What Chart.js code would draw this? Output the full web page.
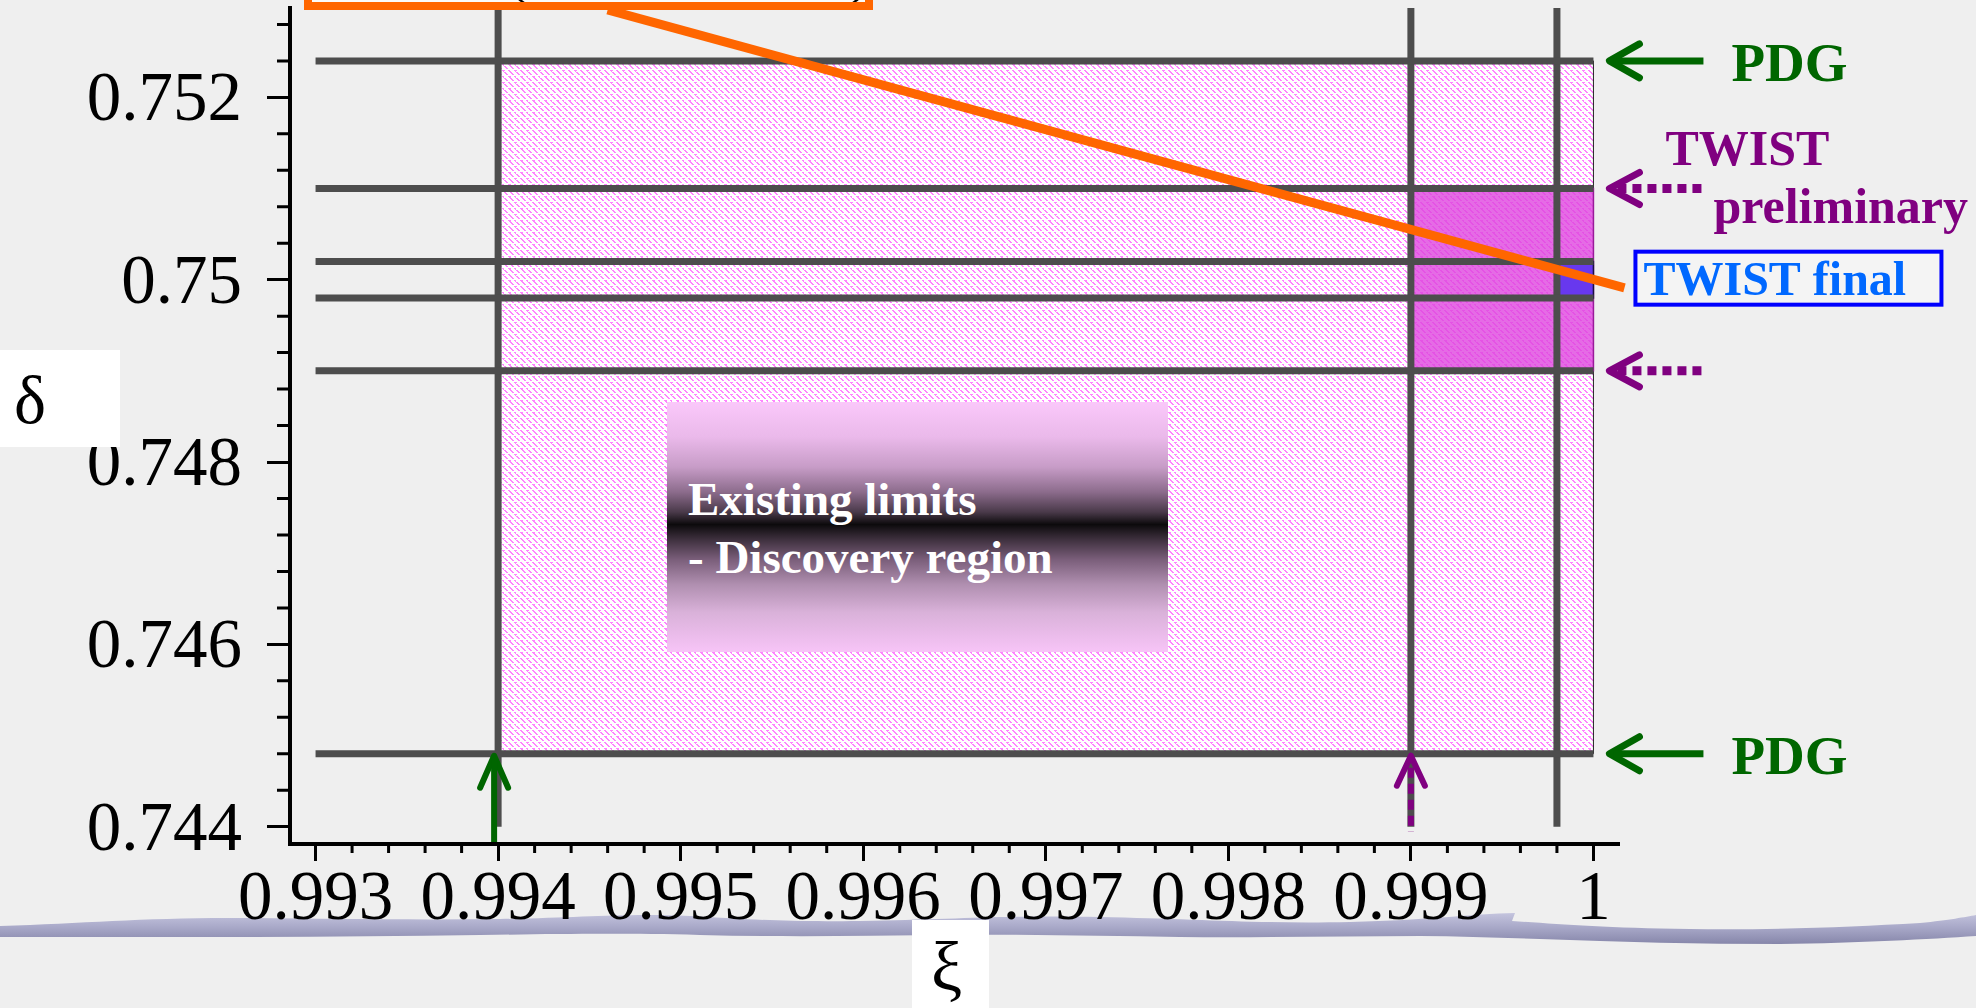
<!DOCTYPE html>
<html>
<head>
<meta charset="utf-8">
<script src="https://cdn.jsdelivr.net/npm/chart.js@4.4.1/dist/chart.umd.min.js"></script>
<style>
  html, body { margin: 0; padding: 0; width: 1976px; height: 1008px; overflow: hidden; background: #efefef; }
  #wrap { position: relative; width: 1976px; height: 1008px; }
  #swoosh, #chart { position: absolute; left: 0; top: 0; }
  .topbox { position: absolute; left: 304px; top: -62px; width: 553px; height: 56px; border: 8px solid #ff6600; background: #fbfbfb; overflow: hidden;
            font-family: 'Liberation Serif', serif; font-size: 60px; color: #000; z-index: 2; }
  .topbox span { position: absolute; top: -4px; line-height: 1; }
  .info { position: absolute; left: 667px; top: 402px; width: 501px; height: 250px;
          background: linear-gradient(to bottom, #fac8fa 0%, #eab9ea 14%, #c79cc7 26%, #8c6c8c 36%, #4a3a4a 44%, #0c0a0c 49%, #3e303e 55%, #7a5e7a 63%, #b08fb0 73%, #d9b1d9 84%, #f7c4f7 100%);
          font-family: 'Liberation Serif', serif; font-weight: bold; font-size: 47px; color: #ffffff; }
  .info div { position: absolute; left: 21px; line-height: 1; white-space: nowrap; }
  .axlab { position: absolute; background: #ffffff; font-family: 'Liberation Serif', serif; color: #000; }
  .axlab span { position: absolute; line-height: 1; }
</style>
</head>
<body>
<div id="wrap">
  <svg id="swoosh" width="1976" height="1008" viewBox="0 0 1976 1008">
    <defs>
      <linearGradient id="band" x1="0" y1="0" x2="0" y2="1">
        <stop offset="0" stop-color="#c4c4de"/>
        <stop offset="0.5" stop-color="#a6a6c6"/>
        <stop offset="1" stop-color="#8686aa"/>
      </linearGradient>
    </defs>
    <path fill="url(#band)" d="M0,926 C90,923 150,917 250,918 C340,919 420,920 500,919 C580,918 620,913 690,916 C760,920 790,922 860,921 C960,919 1010,915 1100,917 C1200,919 1260,924 1350,922 C1430,920 1470,914 1515,913 L1512,921 C1560,924 1600,928 1690,929 C1780,930 1850,927 1920,923 C1950,920 1965,917 1976,915 L1976,936 C1930,939 1860,943 1780,944 C1700,944 1620,942 1540,939 C1500,938 1460,936 1420,936 C1340,936 1260,938 1180,937 C1100,936 1020,934 940,935 C860,936 780,937 700,935 C620,933 560,934 480,935 C400,936 320,937 240,937 C160,937 80,937 0,937 Z"/>
  </svg>
  <canvas id="chart" width="1976" height="1008"></canvas>
  <div class="topbox"><span style="left:195px">(</span><span style="left:538px">)</span></div>
  <div class="info">
    <div style="top:74px">Existing limits</div>
    <div style="top:132px">- Discovery region</div>
  </div>
  <div class="axlab" style="left:0;top:350px;width:120px;height:97px;font-size:68px;"><span style="left:14px;top:16px;">δ</span></div>
  <div class="axlab" style="left:912px;top:920px;width:77px;height:88px;font-size:70px;"><span style="left:19px;top:12px;">ξ</span></div>
</div>
<script>
// ---- axis ranges and tick labels ----
const xiMin = 0.99286, xiMax = 1.00014;
const deltaMin = 0.74381, deltaMax = 0.75298;
const xiTicks = [0.993, 0.994, 0.995, 0.996, 0.997, 0.998, 0.999, 1.0];
const xiTickLabels = ['0.993', '0.994', '0.995', '0.996', '0.997', '0.998', '0.999', '1'];
const deltaTicks = [0.744, 0.746, 0.748, 0.750, 0.752];
const deltaTickLabels = ['0.744', '0.746', '0.748', '0.75', '0.752'];
const minorPerMajor = 5;

// ---- allowed regions in the (ξ, δ) plane ----
const pdgXi = [0.994, 1.0];
const pdgDelta = [0.7448, 0.7524];
const twistPrelimXi = [0.999, 1.0];
const twistPrelimDelta = [0.749, 0.751];
const twistFinalXi = [0.9998, 1.0];
const twistFinalDelta = [0.7498, 0.7502];

// ---- limit lines ----
const hLineDelta = [0.7524, 0.751, 0.7502, 0.7498, 0.749, 0.7448];
const hLineXi = [0.993, 1.0];
const vLineXi = [0.994, 0.999, 0.9998];
const vLineDelta = [0.744, 0.753];

// ---- orange pointer line ----
const pointerXi = [0.99460, 1.00017];
const pointerDelta = [0.75296, 0.74991];

// minor tick positions between (and beyond) the labelled ticks
function minorTicks(majors, lo, hi) {
  const step = (majors[1] - majors[0]) / minorPerMajor;
  const out = [];
  const k0 = Math.ceil((lo - majors[0]) / step - 1e-9);
  const k1 = Math.floor((hi - majors[0]) / step + 1e-9);
  for (let k = k0; k <= k1; k++) {
    if (((k % minorPerMajor) + minorPerMajor) % minorPerMajor === 0) continue;
    out.push(majors[0] + k * step);
  }
  return out;
}
const xiMinor = minorTicks(xiTicks, xiMin, xiMax);
const deltaMinor = minorTicks(deltaTicks, deltaMin, deltaMax);

function rect(xs, ys) {
  return [{x: xs[0], y: ys[0]}, {x: xs[1], y: ys[0]}, {x: xs[1], y: ys[1]}, {x: xs[0], y: ys[1]}, {x: xs[0], y: ys[0]}];
}

// pink maze-like hatch used for the PDG region
function hatchPattern() {
  const n = 12;
  const c = document.createElement('canvas');
  c.width = n; c.height = n;
  const g = c.getContext('2d');
  g.fillStyle = '#ffffff';
  g.fillRect(0, 0, n, n);
  g.fillStyle = '#ff84ff';
  for (let i = 0; i < n; i++) {
    // two diagonal strands per tile, each broken once
    if (i % 6 !== 3) g.fillRect(i, i, 2, 1);
    if ((i + 3) % 6 !== 0) g.fillRect((i + 6) % n, i, 2, 1);
    // short counter-diagonal links
    if (i % 6 === 1) { g.fillRect((n + 3 - i) % n, i, 1, 1); }
    if (i % 6 === 4) { g.fillRect((n + 10 - i) % n, i, 1, 1); }
  }
  return g.createPattern(c, 'repeat');
}

const LINE_GREY = '#4d4d4d';
const datasets = [];

datasets.push({
  data: [{x: pointerXi[0], y: pointerDelta[0]}, {x: pointerXi[1], y: pointerDelta[1]}],
  borderColor: '#ff6600', borderWidth: 9, borderCapStyle: 'butt', clip: false, order: 0
});
hLineDelta.forEach(d => datasets.push({
  data: [{x: hLineXi[0], y: d}, {x: hLineXi[1], y: d}],
  borderColor: LINE_GREY, borderWidth: 7, borderCapStyle: 'butt', order: 1
}));
vLineXi.forEach(v => datasets.push({
  data: [{x: v, y: vLineDelta[0]}, {x: v, y: vLineDelta[1]}],
  borderColor: LINE_GREY, borderWidth: 7, borderCapStyle: 'butt', order: 2
}));
datasets.push({
  data: rect(twistFinalXi, twistFinalDelta),
  fill: 'shape', backgroundColor: '#6838ee', borderColor: '#1a1040', borderWidth: 1.5, order: 3
});
datasets.push({
  data: rect(twistPrelimXi, twistPrelimDelta),
  fill: 'shape', backgroundColor: 'rgba(222, 70, 222, 0.8)', borderColor: '#9a1a9a', borderWidth: 1.5, order: 4
});
datasets.push({
  data: rect(pdgXi, pdgDelta),
  fill: 'shape', backgroundColor: hatchPattern(), borderColor: '#222222', borderWidth: 1, order: 5
});
datasets.forEach(ds => { ds.showLine = true; ds.pointRadius = 0; ds.pointHoverRadius = 0; ds.tension = 0; });

// short unlabelled ticks on both axes
const minorTickPlugin = {
  id: 'minorTickMarks',
  afterDraw(chart) {
    const {ctx, chartArea: a, scales: {x, y}} = chart;
    ctx.save();
    ctx.strokeStyle = '#000';
    ctx.lineWidth = 3;
    ctx.beginPath();
    xiMinor.forEach(v => { const p = x.getPixelForValue(v); ctx.moveTo(p, a.bottom); ctx.lineTo(p, a.bottom + 9); });
    deltaMinor.forEach(v => { const p = y.getPixelForValue(v); ctx.moveTo(a.left, p); ctx.lineTo(a.left - 13, p); });
    ctx.stroke();
    ctx.restore();
  }
};

// polyline arrow head: tip first, then the two arm ends
function head(ctx, tx, ty, ax1, ay1, ax2, ay2) {
  ctx.beginPath();
  ctx.moveTo(ax1, ay1); ctx.lineTo(tx, ty); ctx.lineTo(ax2, ay2);
  ctx.stroke();
}

// arrows and captions next to the limit lines
const captionPlugin = {
  id: 'captions',
  afterDraw(chart) {
    const {ctx, chartArea: a, scales: {x, y}} = chart;
    const xr = x.getPixelForValue(pdgXi[1]);
    const tip = xr + 16, tail = xr + 110;
    ctx.save();
    ctx.lineCap = 'round';
    ctx.lineJoin = 'round';

    // PDG (green, solid)
    ctx.strokeStyle = '#006600';
    ctx.fillStyle = '#006600';
    ctx.font = 'bold 55px "Liberation Serif", serif';
    ctx.textBaseline = 'alphabetic';
    pdgDelta.forEach(d => {
      const py = y.getPixelForValue(d);
      ctx.lineWidth = 7;
      head(ctx, tip, py, tip + 30, py - 17, tip + 30, py + 17);
      ctx.lineCap = 'butt';
      ctx.beginPath(); ctx.moveTo(tip + 4, py); ctx.lineTo(tail, py); ctx.stroke();
      ctx.lineCap = 'round';
      ctx.fillText('PDG', xr + 138, py + 20);
    });
    // PDG lower bound on ξ (green up arrow)
    {
      const px = x.getPixelForValue(pdgXi[0]) - 4;
      const py = y.getPixelForValue(pdgDelta[0]);
      ctx.lineWidth = 6;
      head(ctx, px, py + 2, px - 14, py + 34, px + 14, py + 34);
      ctx.lineCap = 'butt';
      ctx.beginPath(); ctx.moveTo(px, py + 4); ctx.lineTo(px, a.bottom - 2); ctx.stroke();
      ctx.lineCap = 'round';
    }

    // TWIST preliminary (purple, dotted)
    ctx.strokeStyle = '#800080';
    ctx.fillStyle = '#800080';
    twistPrelimDelta.forEach(d => {
      const py = y.getPixelForValue(d);
      ctx.lineWidth = 7;
      head(ctx, tip, py, tip + 30, py - 16, tip + 30, py + 16);
      ctx.lineCap = 'butt';
      ctx.lineWidth = 9;
      ctx.setLineDash([9, 6]);
      ctx.beginPath(); ctx.moveTo(tip + 8, py); ctx.lineTo(tail, py); ctx.stroke();
      ctx.setLineDash([]);
      ctx.lineCap = 'round';
    });
    {
      const py = y.getPixelForValue(twistPrelimDelta[1]);
      ctx.font = 'bold 50px "Liberation Serif", serif';
      ctx.fillText('TWIST', xr + 72, py - 24);
      ctx.fillText('preliminary', xr + 120, py + 34);
    }
    {
      const px = x.getPixelForValue(twistPrelimXi[0]);
      const py = y.getPixelForValue(pdgDelta[0]);
      ctx.lineWidth = 6;
      head(ctx, px, py + 2, px - 14, py + 32, px + 14, py + 32);
      ctx.lineCap = 'butt';
      ctx.setLineDash([10, 6]);
      ctx.beginPath(); ctx.moveTo(px, py + 14); ctx.lineTo(px, a.bottom - 12); ctx.stroke();
      ctx.setLineDash([]);
      ctx.lineCap = 'round';
    }

    // TWIST final (blue framed caption)
    {
      const py = y.getPixelForValue((twistFinalDelta[0] + twistFinalDelta[1]) / 2);
      ctx.fillStyle = 'rgba(255,255,255,0.35)';
      ctx.fillRect(xr + 42, py - 28, 306, 53);
      ctx.strokeStyle = '#0000ff';
      ctx.lineWidth = 4;
      ctx.lineJoin = 'miter';
      ctx.strokeRect(xr + 42, py - 28, 306, 53);
      ctx.fillStyle = '#0068ff';
      ctx.font = 'bold 48px "Liberation Serif", serif';
      ctx.fillText('TWIST final', xr + 50, py + 15);
    }
    ctx.restore();
  }
};

new Chart(document.getElementById('chart'), {
  type: 'scatter',
  data: { datasets },
  options: {
    responsive: false,
    animation: false,
    events: [],
    layout: { padding: { top: 8, right: 357, left: 0, bottom: 0 } },
    plugins: { legend: { display: false }, tooltip: { enabled: false } },
    scales: {
      x: {
        type: 'linear', position: 'bottom', min: xiMin, max: xiMax,
        afterBuildTicks: s => { s.ticks = xiTicks.map(v => ({ value: v })); },
        afterFit: s => { s.height = 164; s.paddingLeft = 0; s.paddingRight = 0; },
        grid: { drawOnChartArea: false, tickLength: 17, tickWidth: 3, tickColor: '#000' },
        border: { display: true, color: '#000', width: 4 },
        ticks: {
          autoSkip: false, maxRotation: 0, padding: -2, color: '#000',
          font: { family: "'Liberation Serif', serif", size: 69 },
          callback: (v, i) => xiTickLabels[i]
        }
      },
      y: {
        type: 'linear', position: 'left', min: deltaMin, max: deltaMax,
        afterBuildTicks: s => { s.ticks = deltaTicks.map(v => ({ value: v })); },
        afterFit: s => { s.width = 290; s.paddingTop = 0; s.paddingBottom = 0; },
        grid: { drawOnChartArea: false, tickLength: 23, tickWidth: 3, tickColor: '#000' },
        border: { display: true, color: '#000', width: 4 },
        ticks: {
          padding: 25, labelOffset: 5, color: '#000',
          font: { family: "'Liberation Serif', serif", size: 69 },
          callback: (v, i) => deltaTickLabels[i]
        }
      }
    }
  },
  plugins: [minorTickPlugin, captionPlugin]
});
</script>
</body>
</html>
